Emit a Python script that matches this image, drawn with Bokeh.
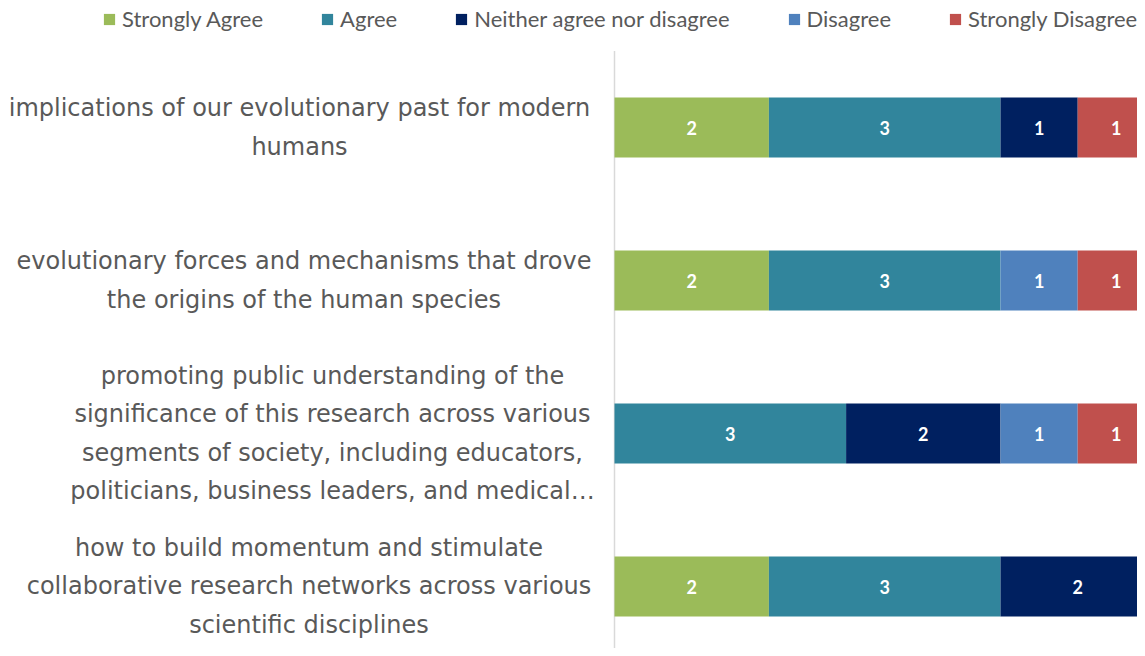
from bokeh.plotting import figure
from bokeh.models import ColumnDataSource, Range1d
from bokeh.core.properties import value
from bokeh.embed import file_html
from bokeh.resources import INLINE

# ---------------- data ----------------
categories = [
    "implications of our evolutionary past for modern\nhumans",
    "evolutionary forces and mechanisms that drove\nthe origins of the human species",
    "promoting public understanding of the\nsignificance of this research across various\nsegments of society, including educators,\npoliticians, business leaders, and medical\u2026",
    "how to build momentum and stimulate\ncollaborative research networks across various\nscientific disciplines",
]
series = ["Strongly Agree", "Agree", "Neither agree nor disagree", "Disagree", "Strongly Disagree"]
strongly_agree = [2, 2, 0, 2]
agree = [3, 3, 3, 3]
neither = [1, 0, 2, 2]
disagree = [0, 1, 1, 0]
strongly_disagree = [1, 1, 1, 0]
colors = ["#9BBB59", "#31859C", "#002060", "#4F81BD", "#C0504D"]

# ---------------- layout ----------------
W, H = 1137, 648
UNIT = 77.2          # px per response
ZERO = 614           # px of value 0 from the figure's left edge
ROW = 153            # px per category row
TOP_ROW_CENTER = 127 # px of first row centre from figure top
label_cx = [299, 303.5, 332, 308.5]  # px centres of category label blocks

n = len(categories)
ypos = [n - 1 - i for i in range(n)]
keys = ["sa", "a", "n", "d", "sd"]
values = [strongly_agree, agree, neither, disagree, strongly_disagree]

src = ColumnDataSource(dict(y=ypos, **{k: v for k, v in zip(keys, values)}))

p = figure(width=W, height=H, output_backend="svg", toolbar_location=None,
           x_range=Range1d(-ZERO / UNIT, (W - ZERO) / UNIT),
           y_range=Range1d(-(H - TOP_ROW_CENTER - (n - 1) * ROW) / ROW,
                           (n - 1) + TOP_ROW_CENTER / ROW),
           min_border=0)
p.xaxis.visible = False
p.yaxis.visible = False
p.xgrid.visible = False
p.ygrid.visible = False
p.outline_line_color = None
p.background_fill_color = "white"
p.border_fill_color = "white"

# vertical category axis line
p.segment(x0=[0], x1=[0], y0=[-0.5], y1=[n - 0.5], line_color="#D9D9D9", line_width=1.5)

p.hbar_stack(keys, y="y", height=60 / ROW, fill_color=colors, line_color=None,
             source=src, legend_label=series)

# value labels
lx, ly, lt = [], [], []
for i in range(n):
    left = 0
    for vals in values:
        v = vals[i]
        if v:
            lx.append(left + v / 2)
            ly.append(ypos[i])
            lt.append(str(v))
        left += v
p.text(x=lx, y=ly, text=lt, text_align="center", text_baseline="middle",
       text_color="white", text_font=value("Lato"), text_font_style="bold",
       text_font_size="18px")

# category labels
p.text(x=[(c - ZERO) / UNIT for c in label_cx], y=ypos, text=categories,
       text_align="center", text_baseline="middle", text_color="#595959",
       text_font=value("DejaVu Sans"), text_font_size="24px", text_line_height=1.36)

leg = p.legend[0]
leg.orientation = "horizontal"
leg.location = (102, 616)
leg.padding = 0
leg.margin = 0
leg.spacing = 57
leg.glyph_width = 14
leg.glyph_height = 14
leg.label_standoff = 6
leg.label_text_font = "Lato"
leg.label_text_font_size = "22px"
leg.label_text_color = "#595959"
leg.background_fill_alpha = 0
leg.border_line_color = None

open("out.html", "w").write(file_html(p, INLINE))
